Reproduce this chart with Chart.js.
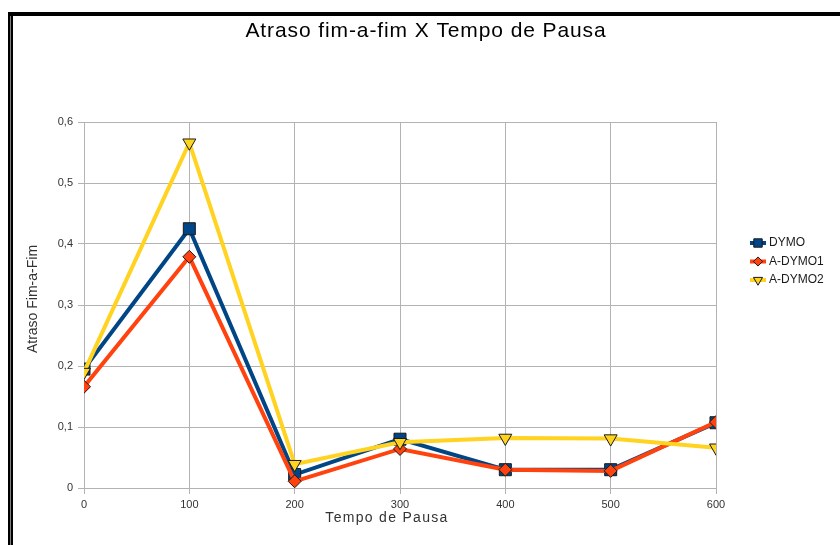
<!DOCTYPE html>
<html>
<head>
<meta charset="utf-8">
<script src="https://cdn.jsdelivr.net/npm/chart.js@4.4.1/dist/chart.umd.min.js"></script>
<style>
  html, body { margin: 0; padding: 0; background: #ffffff; }
  #wrap { width: 840px; height: 545px; position: relative; }
</style>
</head>
<body>
<div id="wrap"><canvas id="c" width="840" height="545"></canvas></div>
<script>
// Pause time (s) on the x axis
const pauseTimes = [0, 100, 200, 300, 400, 500, 600];

// End-to-end delay per protocol
const dymo    = [0.195, 0.425, 0.022, 0.080, 0.030, 0.030, 0.107];
const aDymo1  = [0.166, 0.379, 0.011, 0.064, 0.030, 0.028, 0.108];
const aDymo2  = [0.190, 0.566, 0.039, 0.075, 0.082, 0.081, 0.066];

const seriesNames = ['DYMO', 'A-DYMO1', 'A-DYMO2'];
const yTickValues = [0, 0.1, 0.2, 0.3, 0.4, 0.5, 0.6];

const titleText = 'Atraso fim-a-fim X Tempo de Pausa';
const xTitleText = 'Tempo de Pausa';
const yTitleText = 'Atraso Fim-a-Fim';

const FONT = '"Liberation Sans", Arial, sans-serif';

function toPoints(values) {
  return pauseTimes.map((x, i) => ({ x: x, y: values[i] }));
}

const styles = [
  { color: '#004586', pointStyle: 'rect',     radius: 8.5, rotation: 0,   order: 3 },
  { color: '#ff420e', pointStyle: 'rectRot',  radius: 6.5, rotation: 0,   order: 2 },
  { color: '#ffd320', pointStyle: 'triangle', radius: 7.5, rotation: 180, order: 1 }
];

const datasets = [dymo, aDymo1, aDymo2].map((vals, i) => ({
  label: seriesNames[i],
  data: toPoints(vals),
  order: styles[i].order,
  borderColor: styles[i].color,
  backgroundColor: styles[i].color,
  borderWidth: 4,
  pointStyle: styles[i].pointStyle,
  pointRadius: styles[i].radius,
  pointHoverRadius: styles[i].radius,
  pointRotation: styles[i].rotation,
  pointBackgroundColor: styles[i].color,
  pointBorderColor: '#1a1a1a',
  pointBorderWidth: 1,
  tension: 0,
  fill: false
}));

// Frame, titles and the side legend
const decorations = {
  id: 'decorations',
  afterDraw(chart) {
    const ctx = chart.ctx;
    ctx.save();

    // black frame (top bar and doubled left edge)
    ctx.fillStyle = '#000000';
    ctx.fillRect(8, 12, 832, 4);
    ctx.fillRect(8, 12, 2.5, 533);
    ctx.fillRect(11, 16, 2, 529);

    // chart title
    ctx.fillStyle = '#000000';
    ctx.font = '21px ' + FONT;
    ctx.letterSpacing = '0.9px';
    ctx.textAlign = 'center';
    ctx.textBaseline = 'middle';
    ctx.fillText(titleText, 426, 31);

    // axis titles
    ctx.fillStyle = '#333333';
    ctx.font = '14px ' + FONT;
    ctx.letterSpacing = '1.3px';
    ctx.fillText(xTitleText, 387, 518);

    ctx.letterSpacing = '0px';
    ctx.save();
    ctx.translate(33, 299);
    ctx.rotate(-Math.PI / 2);
    ctx.fillText(yTitleText, 0, 0);
    ctx.restore();

    // legend
    const lx = 750, ly0 = 243, dy = 18.5;
    ctx.font = '12px ' + FONT;
    ctx.textAlign = 'left';
    chart.data.datasets.forEach((ds, i) => {
      const y = ly0 + i * dy;
      ctx.strokeStyle = ds.borderColor;
      ctx.lineWidth = 4;
      ctx.beginPath();
      ctx.moveTo(lx, y);
      ctx.lineTo(lx + 16, y);
      ctx.stroke();
      ctx.fillStyle = ds.pointBackgroundColor;
      ctx.strokeStyle = ds.pointBorderColor;
      ctx.lineWidth = 1;
      Chart.helpers.drawPoint(ctx, {
        pointStyle: ds.pointStyle,
        rotation: ds.pointRotation,
        radius: ds.pointRadius * 0.7,
        borderWidth: 1
      }, lx + 8, y);
      ctx.fillStyle = '#1a1a1a';
      ctx.fillText(ds.label, lx + 19, y);
    });

    ctx.restore();
  }
};

new Chart(document.getElementById('c'), {
  type: 'line',
  data: { datasets: datasets },
  plugins: [decorations],
  options: {
    responsive: false,
    animation: false,
    devicePixelRatio: 1,
    layout: { padding: { left: 0, right: 124, top: 122, bottom: 0 } },
    plugins: {
      legend: { display: false },
      tooltip: { enabled: false },
      title: { display: false }
    },
    scales: {
      x: {
        type: 'linear',
        min: 0,
        max: 600,
        afterBuildTicks(scale) {
          scale.ticks = pauseTimes.map(v => ({ value: v }));
        },
        afterFit(scale) { scale.height = 57; },
        grid: { color: '#b3b3b3', lineWidth: 1, drawTicks: true, tickLength: 6, tickColor: '#b3b3b3' },
        border: { display: true, color: '#b3b3b3' },
        ticks: {
          color: '#333333',
          font: { family: FONT, size: 11 },
          padding: 4,
          maxRotation: 0,
          callback: v => String(v)
        }
      },
      y: {
        type: 'linear',
        min: 0,
        max: 0.6,
        afterBuildTicks(scale) {
          scale.ticks = yTickValues.map(v => ({ value: v }));
        },
        afterFit(scale) { scale.width = 84; },
        grid: { color: '#b3b3b3', lineWidth: 1, drawTicks: true, tickLength: 6, tickColor: '#b3b3b3' },
        border: { display: true, color: '#b3b3b3' },
        ticks: {
          color: '#333333',
          font: { family: FONT, size: 11 },
          padding: 5,
          callback: v => (Math.round(v * 10) / 10).toString().replace('.', ',')
        }
      }
    }
  }
});
</script>
</body>
</html>
